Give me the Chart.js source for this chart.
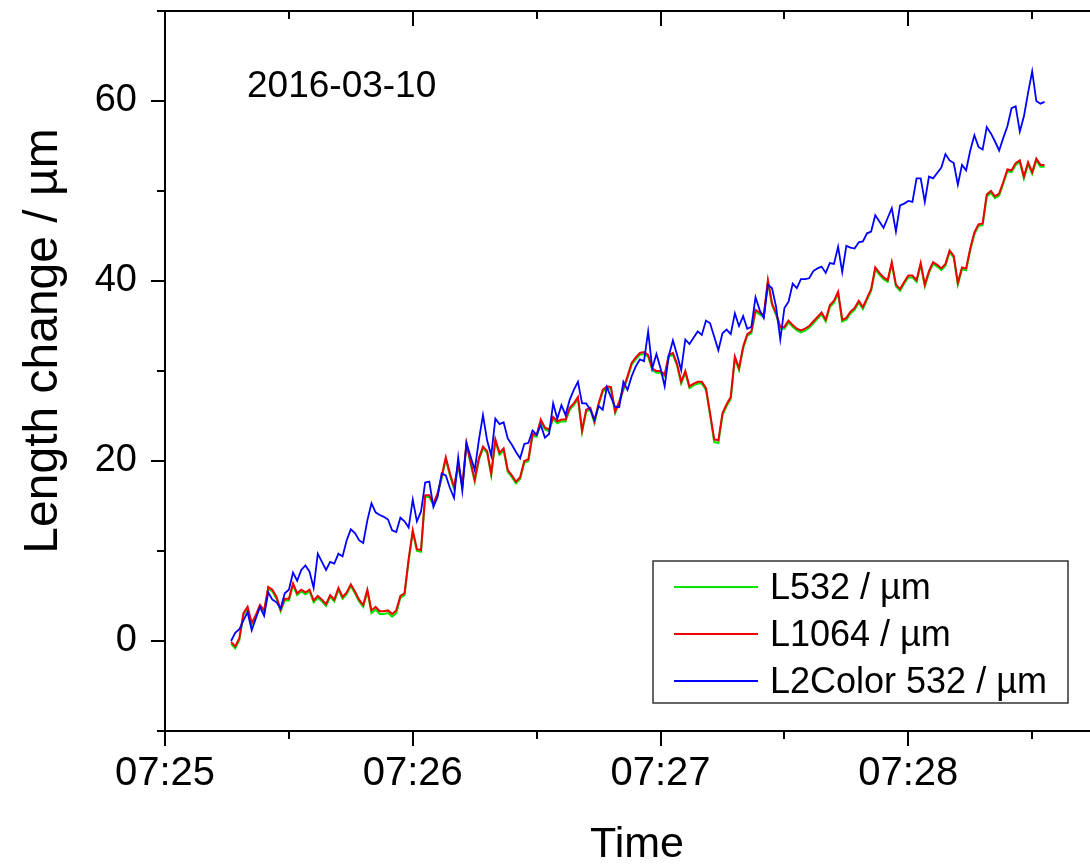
<!DOCTYPE html>
<html>
<head>
<meta charset="utf-8">
<script src="https://cdn.jsdelivr.net/npm/chart.js@4"></script>
<style>
  html, body { margin: 0; padding: 0; background: #fff; overflow: hidden; }
</style>
</head>
<body>
<canvas id="lengthChart" width="1090" height="866"></canvas>
<script>
// seconds after 07:25:00
const times = [
  16, 17, 18, 19, 20, 21, 22, 23, 24, 25, 26, 27, 28, 29, 30, 31, 32, 33, 34, 35,
  36, 37, 38, 39, 40, 41, 42, 43, 44, 45, 46, 47, 48, 49, 50, 51, 52, 53, 54, 55,
  56, 57, 58, 59, 60, 61, 62, 63, 64, 65, 66, 67, 68, 69, 70, 71, 72, 73, 74, 75,
  76, 77, 78, 79, 80, 81, 82, 83, 84, 85, 86, 87, 88, 89, 90, 91, 92, 93, 94, 95,
  96, 97, 98, 99, 100, 101, 102, 103, 104, 105, 106, 107, 108, 109, 110, 111, 112, 113, 114, 115,
  116, 117, 118, 119, 120, 121, 122, 123, 124, 125, 126, 127, 128, 129, 130, 131, 132, 133, 134, 135,
  136, 137, 138, 139, 140, 141, 142, 143, 144, 145, 146, 147, 148, 149, 150, 151, 152, 153, 154, 155,
  156, 157, 158, 159, 160, 161, 162, 163, 164, 165, 166, 167, 168, 169, 170, 171, 172, 173, 174, 175,
  176, 177, 178, 179, 180, 181, 182, 183, 184, 185, 186, 187, 188, 189, 190, 191, 192, 193, 194, 195,
  196, 197, 198, 199, 200, 201, 202, 203, 204, 205, 206, 207, 208, 209, 210, 211, 212, 213
];

const l532 = [
  -0.3, -0.8, 0.1, 2.9, 3.6, 1.8, 2.7, 3.8, 3.2, 5.8,
  5.5, 4.7, 3.3, 4.5, 4.5, 6.2, 5.1, 5.5, 5.2, 5.5,
  4.3, 4.8, 4.4, 3.9, 4.9, 4.4, 5.7, 4.7, 5.2, 6.1,
  5.3, 4.4, 3.8, 5.5, 3.1, 3.5, 3.0, 3.0, 3.1, 2.7,
  3.1, 4.8, 5.1, 8.9, 12.1, 10.0, 9.9, 16.0, 16.0, 15.1,
  16.2, 18.1, 20.2, 18.4, 16.9, 19.5, 17.1, 21.8, 19.7, 17.7,
  20.1, 21.4, 20.9, 18.4, 22.2, 20.7, 21.2, 18.8, 18.2, 17.5,
  18.0, 19.8, 20.0, 22.8, 22.7, 24.4, 23.5, 23.3, 24.7, 24.2,
  24.4, 24.4, 25.7, 26.2, 26.9, 23.2, 25.5, 25.7, 24.2, 26.2,
  27.7, 28.1, 28.0, 25.3, 26.4, 27.9, 29.2, 30.7, 31.3, 31.8,
  31.9, 31.6, 30.1, 29.8, 29.8, 29.4, 31.6, 31.8, 30.6, 28.6,
  29.8, 28.1, 28.4, 28.6, 28.6, 27.9, 25.1, 22.1, 22.0, 25.1,
  26.1, 26.9, 31.4, 30.1, 32.5, 33.9, 34.2, 36.6, 36.3, 36.0,
  39.9, 37.3, 36.2, 34.7, 34.7, 35.4, 34.9, 34.5, 34.3, 34.5,
  34.8, 35.3, 35.8, 36.3, 35.5, 37.1, 37.6, 38.6, 35.5, 35.7,
  36.4, 36.8, 37.6, 36.9, 37.9, 38.9, 41.3, 40.7, 40.2, 39.9,
  41.9, 39.4, 38.9, 39.7, 40.4, 40.4, 39.9, 41.8, 39.4, 40.9,
  41.9, 41.6, 41.2, 41.7, 43.2, 42.6, 39.6, 41.3, 41.2, 43.4,
  45.2, 46.1, 46.2, 49.4, 49.8, 49.2, 49.5, 50.8, 52.2, 52.1,
  52.9, 53.2, 51.4, 53.0, 51.9, 53.4, 52.7, 52.7
];

const l1064 = [
  -0.1, -0.6, 0.3, 3.1, 3.8, 2.0, 2.9, 4.0, 3.4, 6.0,
  5.7, 4.9, 3.5, 4.7, 4.7, 6.4, 5.3, 5.7, 5.4, 5.7,
  4.5, 5.0, 4.6, 4.1, 5.1, 4.6, 5.9, 4.9, 5.4, 6.3,
  5.5, 4.6, 4.0, 5.7, 3.4, 3.8, 3.3, 3.3, 3.4, 3.0,
  3.4, 5.0, 5.3, 9.1, 12.3, 10.2, 10.1, 16.2, 16.2, 15.3,
  16.4, 18.3, 20.4, 18.6, 17.1, 19.7, 17.3, 22.0, 19.9, 17.9,
  20.3, 21.6, 21.1, 18.6, 22.4, 20.9, 21.4, 19.0, 18.4, 17.7,
  18.2, 20.0, 20.2, 23.0, 22.9, 24.6, 23.7, 23.5, 24.9, 24.4,
  24.6, 24.6, 25.9, 26.4, 27.1, 23.4, 25.7, 25.9, 24.4, 26.4,
  27.9, 28.3, 28.2, 25.5, 26.6, 28.1, 29.4, 30.9, 31.5, 32.0,
  32.1, 31.8, 30.3, 30.0, 30.0, 29.6, 31.8, 32.0, 30.8, 28.8,
  30.0, 28.3, 28.6, 28.8, 28.8, 28.1, 25.3, 22.4, 22.3, 25.3,
  26.3, 27.1, 31.6, 30.3, 32.7, 34.1, 34.4, 36.8, 36.5, 36.2,
  40.1, 37.5, 36.4, 34.9, 34.9, 35.6, 35.1, 34.7, 34.5, 34.7,
  35.0, 35.5, 36.0, 36.5, 35.7, 37.3, 37.8, 38.8, 35.7, 35.9,
  36.6, 37.0, 37.8, 37.1, 38.1, 39.1, 41.5, 40.9, 40.4, 40.1,
  42.1, 39.6, 39.1, 39.9, 40.6, 40.6, 40.1, 42.0, 39.6, 41.1,
  42.1, 41.8, 41.4, 41.9, 43.4, 42.8, 39.8, 41.5, 41.4, 43.6,
  45.4, 46.3, 46.4, 49.6, 50.0, 49.4, 49.7, 51.0, 52.4, 52.3,
  53.1, 53.4, 51.6, 53.2, 52.1, 53.6, 52.9, 52.9
];

const l2color = [
  0.0, 0.9, 1.3, 2.3, 3.2, 1.2, 2.5, 3.8, 2.8, 5.4,
  4.6, 4.3, 3.6, 5.3, 5.7, 7.6, 6.7, 7.9, 8.4, 7.7,
  5.9, 9.7, 8.8, 7.9, 8.8, 8.6, 9.7, 9.4, 11.2, 12.4,
  12.0, 11.2, 10.9, 13.4, 15.3, 14.3, 14.0, 13.8, 13.5, 12.3,
  12.1, 13.7, 13.3, 12.6, 15.7, 13.3, 14.4, 17.6, 17.7, 14.9,
  16.0, 18.6, 18.4, 17.0, 15.9, 20.4, 16.7, 22.0, 20.5, 19.0,
  22.3, 25.1, 22.3, 20.6, 24.7, 24.1, 24.3, 22.5, 21.8, 21.0,
  20.3, 21.9, 22.0, 23.4, 22.9, 24.0, 22.6, 23.0, 26.4, 24.7,
  26.2, 25.1, 26.8, 27.9, 28.8, 26.4, 26.4, 25.7, 24.6, 26.1,
  25.7, 28.2, 27.1, 26.0, 26.0, 28.8, 27.9, 29.4, 30.5, 31.3,
  31.1, 34.4, 30.3, 31.9, 30.3, 28.3, 31.7, 33.4, 31.8, 30.1,
  33.5, 33.0, 33.7, 34.4, 34.0, 35.6, 35.3, 33.8, 32.3, 34.2,
  34.6, 34.1, 36.4, 35.0, 36.1, 34.7, 34.9, 38.2, 36.8, 35.9,
  39.6, 39.2, 37.1, 33.5, 37.0, 37.7, 39.7, 39.2, 40.2, 40.2,
  40.3, 41.1, 41.4, 41.6, 40.9, 42.0, 41.9, 43.8, 41.0, 43.9,
  43.7, 43.6, 44.3, 44.4, 45.3, 45.5, 47.3, 46.6, 45.9, 47.0,
  48.1, 45.5, 48.4, 48.6, 48.9, 48.8, 51.4, 51.4, 48.8, 51.6,
  51.4, 52.0, 52.6, 54.1, 53.4, 53.1, 50.7, 52.9, 52.3, 54.5,
  56.2, 54.9, 54.6, 57.1, 56.4, 55.5, 54.5, 55.9, 57.2, 59.2,
  59.4, 56.6, 58.3, 60.9, 63.3, 60.0, 59.7, 59.9
];

const xTicks = [0, 60, 120, 180];
const xMinor = [30, 90, 150, 210];
const yTicks = [0, 20, 40, 60];
const yMinor = [-10, 10, 30, 50, 70];
const dateLabel = '2016-03-10';
const xTitle = 'Time';
const yTitle = 'Length change / µm';

const FONT = "'Liberation Sans', Arial, Helvetica, sans-serif";
Chart.defaults.font.family = FONT;
Chart.defaults.color = '#000';

function toPoints(values) {
  return values.map((v, i) => ({ x: times[i], y: v }));
}

function clock(sec) {
  const m = 25 + Math.floor(sec / 60);
  return '07:' + String(m).padStart(2, '0');
}

// top axis, minor ticks, axis titles, date label and boxed legend
const framePlugin = {
  id: 'frame',
  afterDraw(chart) {
    const { ctx, chartArea: a, scales: { x, y } } = chart;
    ctx.save();
    ctx.strokeStyle = '#000';
    ctx.lineWidth = 2;
    ctx.beginPath();
    ctx.moveTo(a.left, a.top);
    ctx.lineTo(a.right, a.top);
    xTicks.forEach(v => {
      const px = Math.round(x.getPixelForValue(v));
      ctx.moveTo(px, a.top);
      ctx.lineTo(px, a.top + 15);
    });
    xMinor.forEach(v => {
      const px = Math.round(x.getPixelForValue(v));
      ctx.moveTo(px, a.top);
      ctx.lineTo(px, a.top + 8);
      ctx.moveTo(px, a.bottom);
      ctx.lineTo(px, a.bottom + 8);
    });
    yMinor.forEach(v => {
      const py = Math.round(y.getPixelForValue(v));
      ctx.moveTo(a.left - 8, py);
      ctx.lineTo(a.left, py);
    });
    ctx.stroke();

    ctx.fillStyle = '#000';
    ctx.textAlign = 'left';
    ctx.textBaseline = 'alphabetic';
    ctx.font = '37px ' + FONT;
    ctx.fillText(dateLabel, 247, 97);

    // axis titles
    ctx.textAlign = 'center';
    ctx.font = '43px ' + FONT;
    ctx.fillText(xTitle, 637, 857);
    ctx.save();
    ctx.translate(57, 341);
    ctx.rotate(-Math.PI / 2);
    ctx.font = '48px ' + FONT;
    ctx.fillText(yTitle, 0, 0);
    ctx.restore();

    // legend
    ctx.textAlign = 'left';
    ctx.fillStyle = '#fff';
    ctx.fillRect(653, 561, 415, 142);
    ctx.strokeStyle = '#333';
    ctx.lineWidth = 1.5;
    ctx.strokeRect(653, 561, 415, 142);
    ctx.font = '36px ' + FONT;
    chart.data.datasets.forEach((ds, i) => {
      const ly = 587 + i * 47;
      ctx.strokeStyle = ds.borderColor;
      ctx.lineWidth = 2;
      ctx.beginPath();
      ctx.moveTo(674, ly);
      ctx.lineTo(758, ly);
      ctx.stroke();
      ctx.fillStyle = '#000';
      ctx.fillText(ds.label, 770, ly + 12);
    });
    ctx.restore();
  }
};

new Chart(document.getElementById('lengthChart').getContext('2d'), {
  type: 'line',
  data: {
    datasets: [
      { label: 'L532 / µm', data: toPoints(l532), borderColor: '#00e600', borderWidth: 2, order: 2 },
      { label: 'L1064 / µm', data: toPoints(l1064), borderColor: '#f00000', borderWidth: 2, order: 1 },
      { label: 'L2Color 532 / µm', data: toPoints(l2color), borderColor: '#0000ff', borderWidth: 1.8, order: 0 }
    ]
  },
  options: {
    responsive: false,
    animation: false,
    devicePixelRatio: 1,
    layout: { padding: { top: 11, right: 0, bottom: 0, left: 0 } },
    elements: { point: { radius: 0 }, line: { tension: 0 } },
    plugins: { legend: { display: false }, tooltip: { enabled: false } },
    scales: {
      x: {
        type: 'linear',
        min: 0,
        max: 224,
        afterBuildTicks: s => { s.ticks = xTicks.map(v => ({ value: v })); },
        afterFit: s => { s.height = 135; s.paddingLeft = 0; s.paddingRight = 0; },
        ticks: {
          autoSkip: false,
          maxRotation: 0,
          padding: 4,
          font: { size: 40 },
          callback: v => clock(v)
        },
        grid: { display: true, drawOnChartArea: false, tickLength: 15, color: '#000', lineWidth: 2 },
        border: { display: true, color: '#000', width: 2 }
      },
      y: {
        min: -10,
        max: 70,
        afterBuildTicks: s => { s.ticks = yTicks.map(v => ({ value: v })); },
        afterFit: s => { s.width = 165; s.paddingTop = 0; s.paddingBottom = 0; },
        ticks: { padding: 14, font: { size: 38 } },
        grid: { display: true, drawOnChartArea: false, tickLength: 14, color: '#000', lineWidth: 2 },
        border: { display: true, color: '#000', width: 2 }
      }
    }
  },
  plugins: [framePlugin]
});
</script>
</body>
</html>
